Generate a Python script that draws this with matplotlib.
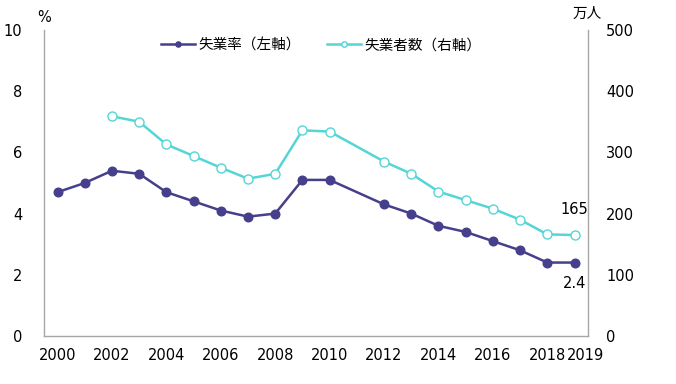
import matplotlib
matplotlib.use("Agg")
import matplotlib.pyplot as plt
import matplotlib.transforms as mtransforms

plt.rcParams['font.family'] = ['DejaVu Sans', 'Noto Sans CJK JP']

years = [2000, 2001, 2002, 2003, 2004, 2005, 2006, 2007, 2008, 2009, 2010,
         2012, 2013, 2014, 2015, 2016, 2017, 2018, 2019]
rate = [4.7, 5.0, 5.4, 5.3, 4.7, 4.4, 4.1, 3.9, 4.0, 5.1, 5.1,
        4.3, 4.0, 3.6, 3.4, 3.1, 2.8, 2.4, 2.4]
count_years = [2002, 2003, 2004, 2005, 2006, 2007, 2008, 2009, 2010,
               2012, 2013, 2014, 2015, 2016, 2017, 2018, 2019]
count = [359, 350, 313, 294, 275, 257, 265, 336, 334,
         285, 265, 236, 222, 208, 190, 166, 165]
xticks = [2000, 2002, 2004, 2006, 2008, 2010, 2012, 2014, 2016, 2018, 2019]
label_rate = "失業率（左軸）"
label_count = "失業者数（右軸）"

dark = '#463f8b'
cyan = '#55d5d5'
grey = '#a6a6a6'

fig = plt.figure(figsize=(6.76, 3.84), dpi=100)
ax = fig.add_axes([0.065, 0.125, 0.805, 0.797])
ax2 = ax.twinx()

l1, = ax.plot(years, rate, color=dark, lw=1.8, marker='o', ms=6.2,
              mfc=dark, mec=dark, label=label_rate, zorder=3)
l2, = ax2.plot(count_years, count, color=cyan, lw=1.8, marker='o', ms=6.5,
               mfc='white', mec=cyan, mew=1.0, label=label_count, zorder=3)

ax.set_xlim(1999.5, 2019.5)
ax.set_ylim(0, 10)
ax2.set_ylim(0, 500)
ax.set_yticks([0, 2, 4, 6, 8, 10])
ax2.set_yticks([0, 100, 200, 300, 400, 500])
ax.set_xticks(xticks)
ax.set_xticklabels([str(x) for x in xticks])

for a in (ax, ax2):
    a.spines['top'].set_visible(False)
    for s in ('left', 'right', 'bottom'):
        a.spines[s].set_color(grey)
        a.spines[s].set_linewidth(1.0)
    a.tick_params(length=0, labelsize=10.5, colors='black')
ax.spines['right'].set_visible(False)
ax2.spines['left'].set_visible(False)
ax2.spines['bottom'].set_visible(False)
ax.tick_params(axis='y', pad=15.5)
ax2.tick_params(axis='y', pad=13)
ax.tick_params(axis='x', pad=9)

# the last year label sits a little to the right, as in the reference
last = ax.get_xticklabels()[-1]
last.set_transform(last.get_transform() +
                   mtransforms.ScaledTranslation(8 / 72, 0, fig.dpi_scale_trans))

fig.text(0.065, 0.955, '%', ha='center', va='center', fontsize=10.5)
fig.text(0.868, 0.963, '万人', ha='center', va='center', fontsize=10.5,
         family=['Noto Sans CJK JP', 'DejaVu Sans'])

ax2.annotate(f"{count[-1]}", (count_years[-1], count[-1]), xytext=(0, 13),
             textcoords='offset points', ha='center', va='bottom', fontsize=10.5)
ax.annotate(f"{rate[-1]}", (years[-1], rate[-1]), xytext=(0, -9.5),
            textcoords='offset points', ha='center', va='top', fontsize=10.5)

leg = ax.legend(handles=[l1, l2], loc='upper center', bbox_to_anchor=(0.51, 1.015),
                ncol=2, frameon=False, handlelength=2.3,
                columnspacing=1.8, handletextpad=0.25, markerscale=0.6,
                prop={'family': ['Noto Sans CJK JP', 'DejaVu Sans'], 'size': 10.5})

fig.savefig('out.png', dpi=100)
